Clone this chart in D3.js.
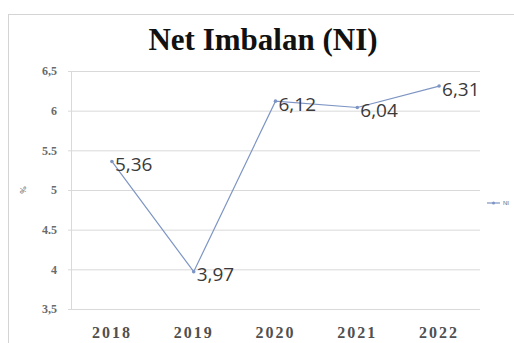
<!DOCTYPE html>
<html>
<head>
<meta charset="utf-8">
<script src="https://cdn.jsdelivr.net/npm/d3@7"></script>
<style>
  body { margin: 0; background: #fff; }
  svg { display: block; }
</style>
</head>
<body>
<svg></svg>
<script>
let years = ["2018", "2019", "2020", "2021", "2022"],
    niValues = [5.36, 3.97, 6.12, 6.04, 6.31],
    yTicks = [3.5, 4, 4.5, 5, 5.5, 6, 6.5],
    yTickLabels = ["3,5", "4", "4.5", "5", "5.5", "6", "6,5"],
    dataLabels = ["5,36", "3,97", "6,12", "6,04", "6,31"];

let svg = d3.select("svg").attr("width", 514).attr("height", 343),
    margin = {top: 71, right: 34, bottom: 34, left: 71},
    width = 514 - margin.left - margin.right,
    height = 343 - margin.top - margin.bottom,
    lineColor = "#7d95c4";

// chart area border
svg.append("rect")
    .attr("x", 8.5).attr("y", 14.5)
    .attr("width", 540).attr("height", 360)
    .attr("fill", "#fff")
    .attr("stroke", "#d4d4d4");

// title
svg.append("text")
    .text("Net Imbalan (NI)")
    .attr("x", 263).attr("y", 50)
    .attr("text-anchor", "middle")
    .style("font", "bold 31px 'Liberation Serif', serif")
    .attr("fill", "#111");

let g = svg.append("g").attr("transform", "translate(" + margin.left + "," + margin.top + ")");

let x = d3.scaleBand().domain(years).range([0, width]),
    y = d3.scaleLinear().domain([3.5, 6.5]).range([height, 0]);

// gridlines
g.append("g")
    .call(d3.axisLeft(y).tickValues(yTicks).tickSize(-width - 3).tickFormat(""))
    .call(function (a) {
        a.select(".domain").remove();
        a.selectAll("line").attr("stroke", "#d9d9d9").attr("transform", "translate(-3,0)");
    });

// left axis line
g.append("line")
    .attr("x1", 0.5).attr("x2", 0.5)
    .attr("y1", 0).attr("y2", height)
    .attr("stroke", "#d9d9d9");

// y tick labels
g.append("g")
    .selectAll("text")
    .data(yTicks)
    .enter().append("text")
    .attr("x", -14)
    .attr("y", function (d) { return y(d); })
    .attr("dy", "0.35em")
    .attr("text-anchor", "end")
    .style("font", "bold 12px 'Liberation Serif', serif")
    .attr("fill", "#6a6a6a")
    .text(function (d, i) { return yTickLabels[i]; });

// y axis title
svg.append("text")
    .text("%")
    .attr("transform", "translate(26," + (margin.top + y(5)) + ") rotate(-90)")
    .attr("text-anchor", "middle")
    .style("font", "9px 'Liberation Serif', serif")
    .attr("fill", "#555");

// x tick labels
g.append("g")
    .selectAll("text")
    .data(years)
    .enter().append("text")
    .attr("x", function (d) { return x(d) + x.bandwidth() / 2; })
    .attr("y", height + 29)
    .attr("text-anchor", "middle")
    .style("font", "bold 16px 'Liberation Serif', serif")
    .style("letter-spacing", "2px")
    .attr("fill", "#505050")
    .text(function (d) { return d; });

let line = d3.line()
    .x(function (d, i) { return x(years[i]) + x.bandwidth() / 2; })
    .y(function (d) { return y(d); });

g.append("path")
    .datum(niValues)
    .attr("d", line)
    .attr("fill", "none")
    .attr("stroke", lineColor)
    .attr("stroke-width", 1.2);

g.selectAll(".pt")
    .data(niValues)
    .enter().append("circle")
    .attr("class", "pt")
    .attr("cx", function (d, i) { return x(years[i]) + x.bandwidth() / 2; })
    .attr("cy", function (d) { return y(d); })
    .attr("r", 1.8)
    .attr("fill", lineColor);

// data labels
g.selectAll(".lbl")
    .data(niValues)
    .enter().append("text")
    .attr("class", "lbl")
    .attr("x", function (d, i) { return x(years[i]) + x.bandwidth() / 2 + 3; })
    .attr("y", function (d) { return y(d) + 3; })
    .attr("dy", "0.35em")
    .style("font", "19px 'Open Sans', sans-serif")
    .attr("fill", "#3a3a3a")
    .text(function (d, i) { return dataLabels[i]; });

// legend
let legend = svg.append("g").attr("transform", "translate(487,203)");
legend.append("line")
    .attr("x1", 0).attr("x2", 13)
    .attr("stroke", lineColor).attr("stroke-width", 1.2);
legend.append("circle").attr("cx", 6.5).attr("r", 1.5).attr("fill", lineColor);
legend.append("text")
    .text("NI")
    .attr("x", 16).attr("dy", "0.35em")
    .style("font", "6px 'Liberation Sans', sans-serif")
    .attr("fill", "#666");
</script>
</body>
</html>
